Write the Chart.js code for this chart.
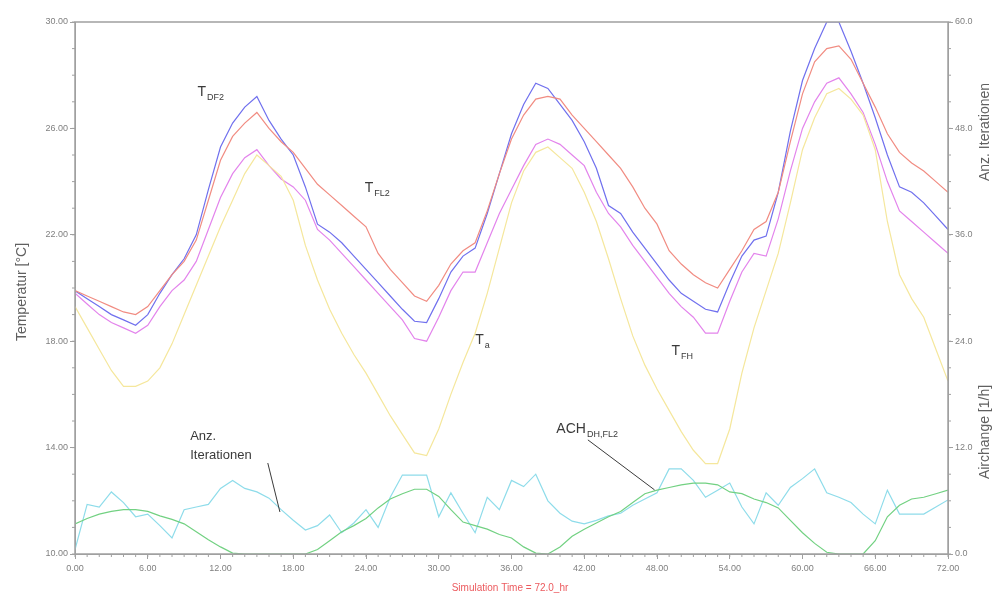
<!DOCTYPE html>
<html lang="de">
<head>
    <meta charset="UTF-8">
    <title>Temperaturverlauf</title>
    <script src="https://cdn.jsdelivr.net/npm/chart.js"></script>
    <style>
        body {
            margin: 0;
            padding: 0;
            background-color: #ffffff;
            font-family: 'Liberation Sans', Arial, sans-serif;
        }

        .wrap {
            position: relative;
            width: 1005px;
            height: 599px;
        }
    </style>
</head>
<body>
    <div class="wrap">
        <canvas id="chart"></canvas>
    </div>

    <script>
        // simulation time in hours
        const hours = [];
        for (let h = 0; h <= 72; h++) hours.push(h);

        // temperatures [°C]
        const tDF2 = [19.9, 19.6, 19.3, 19.0, 18.8, 18.6, 19.0, 19.8, 20.5, 21.1, 22.0, 23.7, 25.3, 26.2, 26.8, 27.2, 26.3, 25.6, 25.0, 23.8,
            22.4, 22.1, 21.7, 21.2, 20.7, 20.2, 19.7, 19.2, 18.75, 18.7, 19.6, 20.6, 21.2, 21.5, 22.8, 24.3, 25.8, 26.9, 27.7, 27.5,
            26.9, 26.3, 25.5, 24.5, 23.1, 22.8, 22.1, 21.5, 20.9, 20.3, 19.8, 19.5, 19.2, 19.1, 20.2, 21.2, 21.8, 21.95, 23.6, 25.9,
            27.8, 29.0, 30.0, 30.0, 28.9, 27.7, 26.4, 25.0, 23.8, 23.6, 23.2, 22.7, 22.2];
        const tFL2 = [19.9, 19.7, 19.5, 19.3, 19.1, 19.0, 19.3, 19.9, 20.5, 21.0, 21.8, 23.3, 24.8, 25.7, 26.2, 26.6, 26.0, 25.5, 25.1, 24.5,
            23.9, 23.5, 23.1, 22.7, 22.3, 21.3, 20.7, 20.2, 19.7, 19.5, 20.1, 20.9, 21.4, 21.7, 22.9, 24.3, 25.6, 26.5, 27.1, 27.2,
            27.1, 26.5, 26.0, 25.5, 25.0, 24.5, 23.8, 23.0, 22.4, 21.4, 20.9, 20.5, 20.2, 20.0, 20.7, 21.4, 22.2, 22.5, 23.6, 25.5,
            27.3, 28.5, 29.0, 29.1, 28.6, 27.7, 26.8, 25.8, 25.1, 24.7, 24.4, 24.0, 23.6];
        const tFH = [19.8, 19.4, 19.0, 18.7, 18.5, 18.3, 18.6, 19.3, 19.9, 20.3, 21.0, 22.2, 23.4, 24.3, 24.9, 25.2, 24.6, 24.1, 23.8, 23.3,
            22.2, 21.8, 21.3, 20.8, 20.3, 19.8, 19.3, 18.8, 18.1, 18.0, 18.9, 19.9, 20.6, 20.6, 21.7, 22.8, 23.7, 24.6, 25.4, 25.6,
            25.4, 25.0, 24.6, 23.6, 22.8, 22.3, 21.6, 21.0, 20.4, 19.8, 19.3, 18.9, 18.3, 18.3, 19.5, 20.6, 21.3, 21.2, 22.6, 24.4,
            26.0, 27.0, 27.7, 27.9, 27.3, 26.6, 25.4, 24.0, 22.9, 22.5, 22.1, 21.7, 21.3];
        const tA = [19.3, 18.5, 17.7, 16.9, 16.3, 16.3, 16.5, 17.0, 17.9, 19.0, 20.1, 21.2, 22.3, 23.3, 24.3, 25.0, 24.6, 24.2, 23.3, 21.6,
            20.3, 19.2, 18.3, 17.5, 16.8, 16.0, 15.2, 14.5, 13.8, 13.7, 14.7, 16.0, 17.2, 18.3, 19.8, 21.5, 23.2, 24.4, 25.1, 25.3,
            24.9, 24.5, 23.6, 22.5, 21.1, 19.6, 18.2, 17.1, 16.2, 15.4, 14.6, 13.9, 13.4, 13.4, 14.7, 16.8, 18.5, 19.9, 21.3, 23.2,
            25.2, 26.4, 27.3, 27.5, 27.1, 26.5, 25.2, 22.5, 20.5, 19.6, 18.9, 17.7, 16.5];

        // right axis: number of iterations and air change rate
        const iterations = [0.5, 5.6, 5.3, 7.0, 5.8, 4.2, 4.5, 3.2, 1.8, 5.0, 5.3, 5.6, 7.4, 8.3, 7.4, 7.0, 6.3, 5.0, 3.8, 2.7,
            3.2, 4.4, 2.4, 3.5, 5.0, 3.0, 6.4, 8.9, 8.9, 8.9, 4.2, 6.9, 4.6, 2.4, 6.4, 5.0, 8.3, 7.6, 9.0, 6.0,
            4.6, 3.7, 3.4, 3.8, 4.3, 4.6, 5.5, 6.2, 6.9, 9.6, 9.6, 8.3, 6.4, 7.2, 8.0, 5.3, 3.4, 6.9, 5.5, 7.5,
            8.5, 9.6, 6.9, 6.4, 5.8, 4.5, 3.4, 7.2, 4.5, 4.5, 4.5, 5.3, 6.1];
        const achDHFL2 = [3.4, 4.0, 4.5, 4.8, 5.0, 5.0, 4.8, 4.3, 3.9, 3.4, 2.5, 1.6, 0.8, 0.1, 0, 0, 0, 0, 0, 0,
            0.5, 1.5, 2.5, 3.2, 4.0, 5.2, 6.2, 6.8, 7.3, 7.3, 6.5, 5.0, 3.6, 3.2, 2.8, 2.2, 1.8, 0.8, 0.1, 0,
            0.8, 2.0, 2.8, 3.5, 4.2, 4.8, 5.8, 6.8, 7.2, 7.5, 7.8, 8.0, 8.0, 7.8, 7.0, 6.8, 6.2, 5.8, 5.2, 3.8,
            2.4, 1.2, 0.2, 0, 0, 0, 1.5, 4.2, 5.5, 6.2, 6.4, 6.8, 7.2];

        // curve labels: [main, subscript, hour, temperature]
        const curveLabels = [
            ['T', 'DF2', 10.1, 27.2],
            ['T', 'FL2', 23.9, 23.6],
            ['T', 'a', 33.0, 17.9],
            ['T', 'FH', 49.2, 17.5],
            ['ACH', 'DH,FL2', 39.7, 14.55]
        ];

        const toPoints = arr => arr.map((v, i) => ({ x: hours[i], y: v }));

        function series(label, data, color, axis) {
            return {
                label: label,
                data: toPoints(data),
                borderColor: color,
                borderWidth: 1.2,
                pointRadius: 0,
                tension: 0,
                yAxisID: axis
            };
        }

        const plotFrame = {
            id: 'plotFrame',
            afterDraw(chart) {
                const ctx = chart.ctx;
                const a = chart.chartArea;
                const x = chart.scales.x, y = chart.scales.y, y2 = chart.scales.y2;
                ctx.save();

                // frame
                ctx.strokeStyle = '#a0a0a0';
                ctx.lineWidth = 1.5;
                ctx.strokeRect(a.left, a.top, a.right - a.left, a.bottom - a.top);

                // minor ticks
                ctx.lineWidth = 1;
                ctx.beginPath();
                for (let h = 0; h <= 72; h++) {
                    const px = x.getPixelForValue(h);
                    ctx.moveTo(px, a.bottom);
                    ctx.lineTo(px, a.bottom + 3);
                }
                for (let t = 10; t <= 30; t += 1) {
                    const py = y.getPixelForValue(t);
                    ctx.moveTo(a.left, py);
                    ctx.lineTo(a.left - 3, py);
                }
                for (let v = 0; v <= 60; v += 3) {
                    const py = y2.getPixelForValue(v);
                    ctx.moveTo(a.right, py);
                    ctx.lineTo(a.right + 3, py);
                }
                ctx.stroke();

                // axis titles
                ctx.fillStyle = '#606060';
                ctx.font = '14px "Liberation Sans", Arial, sans-serif';
                ctx.textAlign = 'center';
                ctx.textBaseline = 'middle';
                const vtext = (txt, cx, cy) => {
                    ctx.save();
                    ctx.translate(cx, cy);
                    ctx.rotate(-Math.PI / 2);
                    ctx.fillText(txt, 0, 0);
                    ctx.restore();
                };
                vtext('Temperatur [°C]', 22, 292);
                vtext('Anz. Iterationen', 985, 132);
                vtext('Airchange [1/h]', 985, 432);

                ctx.fillStyle = '#ec5a5e';
                ctx.font = '10px "Liberation Sans", Arial, sans-serif';
                ctx.fillText('Simulation Time = 72.0_hr', 510, 588);

                // curve labels with subscripts
                ctx.fillStyle = '#3a3a3a';
                ctx.textAlign = 'left';
                ctx.textBaseline = 'alphabetic';
                curveLabels.forEach(([main, sub, h, t]) => {
                    const px = x.getPixelForValue(h);
                    const py = y.getPixelForValue(t);
                    ctx.font = '14px "Liberation Sans", Arial, sans-serif';
                    ctx.fillText(main, px, py);
                    const w = ctx.measureText(main).width;
                    ctx.font = '9px "Liberation Sans", Arial, sans-serif';
                    ctx.fillText(sub, px + w + 1, py + 4);
                });

                ctx.font = '13px "Liberation Sans", Arial, sans-serif';
                ctx.fillText('Anz.', x.getPixelForValue(9.5), y.getPixelForValue(14.3));
                ctx.fillText('Iterationen', x.getPixelForValue(9.5), y.getPixelForValue(13.58));

                // leader lines
                ctx.strokeStyle = '#3a3a3a';
                ctx.lineWidth = 1;
                ctx.beginPath();
                ctx.moveTo(x.getPixelForValue(15.9), y.getPixelForValue(13.42));
                ctx.lineTo(x.getPixelForValue(16.9), y.getPixelForValue(11.58));
                ctx.moveTo(x.getPixelForValue(42.3), y.getPixelForValue(14.29));
                ctx.lineTo(x.getPixelForValue(47.8), y.getPixelForValue(12.41));
                ctx.stroke();

                ctx.restore();
            }
        };

        const tickFont = { family: "'Liberation Sans', Arial, sans-serif", size: 9 };

        new Chart(document.getElementById('chart'), {
            type: 'line',
            data: {
                datasets: [
                    series('T_a', tA, '#f5e79c', 'y'),
                    series('T_FH', tFH, '#e384ec', 'y'),
                    series('T_FL2', tFL2, '#f18c82', 'y'),
                    series('T_DF2', tDF2, '#7070ee', 'y'),
                    series('ACH_DH,FL2', achDHFL2, '#72d182', 'y2'),
                    series('Anz. Iterationen', iterations, '#8edcea', 'y2')
                ]
            },
            options: {
                responsive: true,
                maintainAspectRatio: false,
                animation: false,
                layout: { padding: { top: 22, left: 0, right: 0, bottom: 0 } },
                plugins: {
                    legend: { display: false },
                    tooltip: { enabled: false }
                },
                scales: {
                    x: {
                        type: 'linear',
                        min: 0,
                        max: 72,
                        afterFit: s => { s.height = 45; },
                        ticks: {
                            stepSize: 6,
                            color: '#808080',
                            font: tickFont,
                            padding: 4,
                            callback: v => v.toFixed(2)
                        },
                        grid: { drawOnChartArea: false, tickLength: 5, color: '#a0a0a0' },
                        border: { color: '#a0a0a0' }
                    },
                    y: {
                        position: 'left',
                        min: 10,
                        max: 30,
                        afterFit: s => { s.width = 75; },
                        ticks: {
                            stepSize: 4,
                            color: '#808080',
                            font: tickFont,
                            padding: 2,
                            callback: v => v.toFixed(2)
                        },
                        grid: { drawOnChartArea: false, tickLength: 5, color: '#a0a0a0' },
                        border: { color: '#a0a0a0' }
                    },
                    y2: {
                        position: 'right',
                        min: 0,
                        max: 60,
                        afterFit: s => { s.width = 57; },
                        ticks: {
                            stepSize: 12,
                            color: '#808080',
                            font: tickFont,
                            padding: 2,
                            callback: v => v.toFixed(1)
                        },
                        grid: { drawOnChartArea: false, tickLength: 5, color: '#a0a0a0' },
                        border: { color: '#a0a0a0' }
                    }
                }
            },
            plugins: [plotFrame]
        });
    </script>
</body>
</html>
